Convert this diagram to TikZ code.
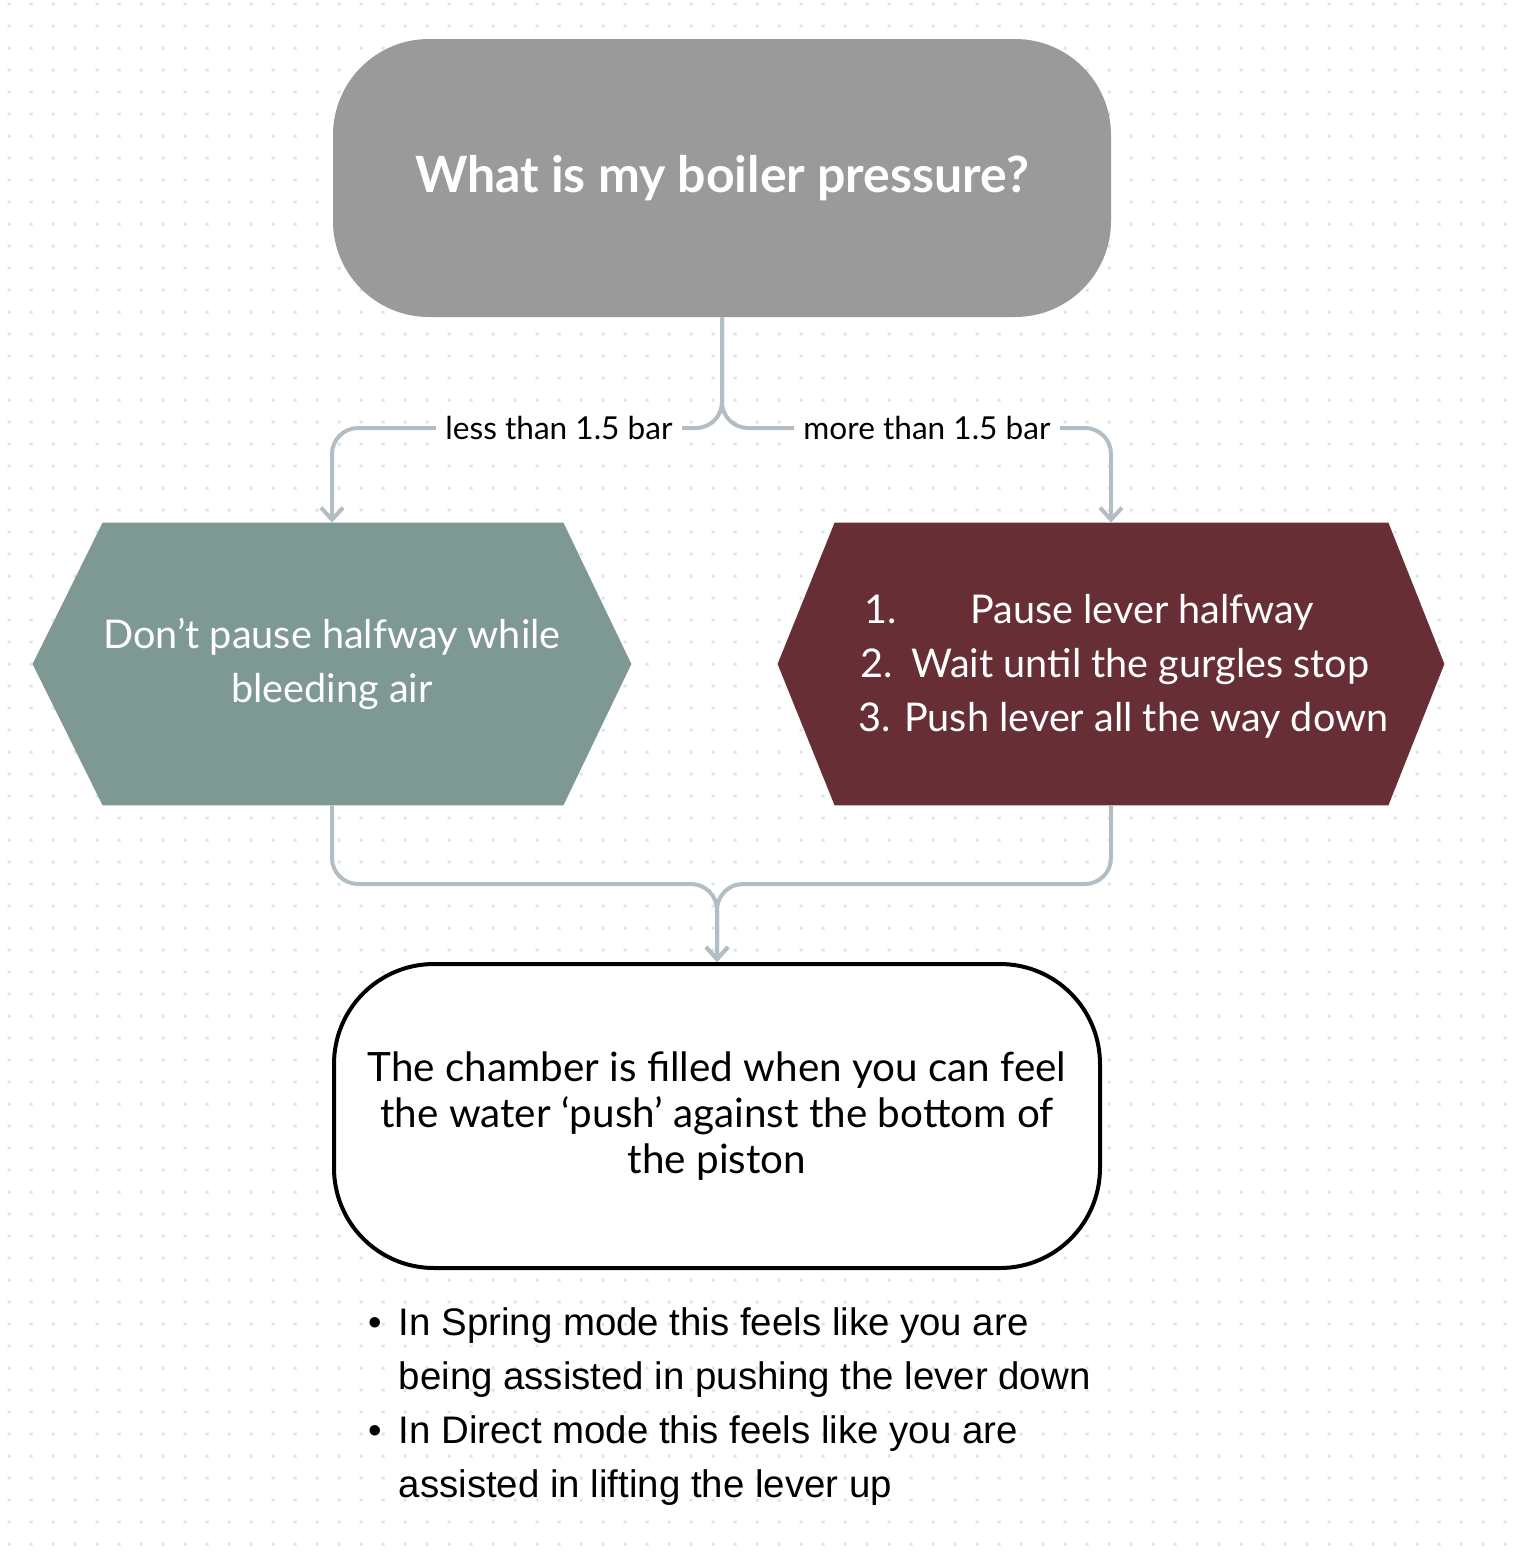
\documentclass[tikz,border=0pt]{standalone}
\usepackage{fontspec}
\setmainfont{Lato}
\newfontfamily\arialf{Liberation Sans}
\usetikzlibrary{arrows.meta,backgrounds}
\definecolor{dotc}{HTML}{DFE3E8}
\definecolor{boxgray}{HTML}{999A99}
\definecolor{tealbox}{HTML}{7E9893}
\definecolor{maroonbox}{HTML}{672F35}
\definecolor{connc}{HTML}{B3BDC4}
\begin{document}
\begin{tikzpicture}[x=0.5pt,y=-0.5pt,
  conn/.style={draw=connc,line width=2pt,rounded corners=13pt},
  tip/.style={-{Straight Barb[length=6pt,width=11pt]}},
  lbl/.style={fill=white,inner xsep=4.5pt,inner ysep=3pt,font=\fontsize{15.8}{18}\selectfont},
  hexnode/.style={inner sep=0pt,minimum width=#1},
  wtext/.style={text=white,align=center,font=\fontsize{19.8}{27}\selectfont}]
\useasboundingbox (0,0) rectangle (1512,1554);
\begin{scope}[on background layer]
\fill[dotc] \foreach \i in {0,...,68}{\foreach \j in {0,...,70}{(9+22*\i-1.5,4+22*\j-1.5) rectangle ++(3,3)}};
\end{scope}
% top question
\node[fill=boxgray,rounded corners=48pt,minimum width=389pt,minimum height=139pt,inner sep=0pt,
      text=white,font=\fontsize{25}{29}\bfseries\selectfont] (q) at (722,178) {What is my boiler pressure?};
% left hexagon
\node[hexnode=299pt,minimum height=141pt,wtext] (dont) at (332,664) {Don’t pause halfway while\\bleeding air};
% right hexagon
\node[hexnode=333pt,minimum height=141pt] (rhex) at (1111,664) {};
\node[text=white,align=left,font=\fontsize{19.8}{27}\selectfont,anchor=west,inner sep=0pt] (steps) at (858,666)
  {\makebox[56pt][l]{\hspace{3pt}1.}Pause lever halfway\\\makebox[26.5pt][l]{\hspace{1pt}2.}Wait until the gurgles stop\\3. Push lever all the way down};
\begin{scope}[on background layer]
\fill[tealbox] (dont.west) -- ([xshift=35pt]dont.north west) -- ([xshift=-34pt]dont.north east) -- (dont.east)
  -- ([xshift=-34pt]dont.south east) -- ([xshift=35pt]dont.south west) -- cycle;
\fill[maroonbox] (rhex.west) -- ([xshift=28.5pt]rhex.north west) -- ([xshift=-28pt]rhex.north east) -- (rhex.east)
  -- ([xshift=-28pt]rhex.south east) -- ([xshift=28.5pt]rhex.south west) -- cycle;
\end{scope}
% result box
\node[draw=black,line width=2pt,fill=white,rounded corners=50pt,minimum width=383pt,minimum height=152pt,
      inner sep=0pt,align=center,font=\fontsize{20.2}{23}\selectfont] (res) at (717,1116)
  {\raisebox{-3pt}{\parbox{383pt}{\centering The chamber is filled when you can feel\\the water ‘push’ against the bottom of\\the piston}}};
% connectors
\coordinate (split) at (722,428);
\coordinate (join) at (717,884);
\draw[conn,tip] (q.south) -- (split) -- (split -| dont.north) -- (dont.north);
\draw[conn,tip] (q.south) -- (split) -- (split -| rhex.north) -- (rhex.north);
\draw[conn,tip] (dont.south) -- (dont.south |- join) -- (join) -- (res.north);
\draw[conn,tip] (rhex.south) -- (rhex.south |- join) -- (join) -- (res.north);
\node[lbl] (lesslbl) at (559,428) {less than 1.5 bar};
\node[lbl] (morelbl) at (927,428) {more than 1.5 bar};
% notes
\node[anchor=west,align=left,inner sep=0pt,font=\arialf\fontsize{19.2}{27}\selectfont] (notes) at (368,1407)
  {\textbullet\hspace{8.5pt}In Spring mode this feels like you are\\
   \hphantom{\textbullet}\hspace{8.5pt}being assisted in pushing the lever down\\
   \textbullet\hspace{8.5pt}In Direct mode this feels like you are\\
   \hphantom{\textbullet}\hspace{8.5pt}assisted in lifting the lever up};
\end{tikzpicture}
\end{document}
